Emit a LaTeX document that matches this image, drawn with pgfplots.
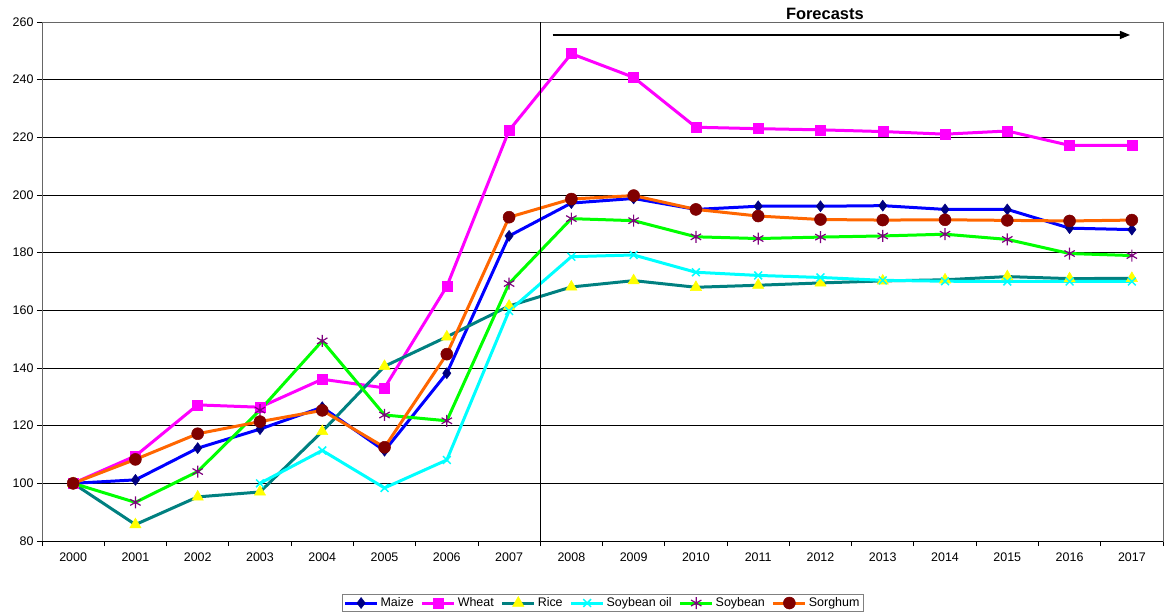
\documentclass[border=0pt]{standalone}
\usepackage{pgfplots}
\pgfplotsset{compat=1.18}
\usepackage{fontspec}
\setmainfont{Liberation Sans}
\usetikzlibrary{arrows.meta}
\definecolor{cMaize}{RGB}{0,0,255}
\definecolor{cMaizeM}{RGB}{0,0,128}
\definecolor{cWheat}{RGB}{255,0,255}
\definecolor{cRice}{RGB}{0,128,128}
\definecolor{cRiceM}{RGB}{255,255,0}
\definecolor{cOil}{RGB}{0,255,255}
\definecolor{cSoy}{RGB}{0,255,0}
\definecolor{cSoyM}{RGB}{128,0,128}
\definecolor{cSorg}{RGB}{255,102,0}
\definecolor{cSorgM}{RGB}{128,0,0}
\begin{document}
\begin{tikzpicture}
\useasboundingbox (-42bp,-75bp) rectangle (1123bp,541bp);
\begin{axis}[
  at={(0,0)}, anchor=south west,
  scale only axis, width=1121bp, height=519bp,
  xmin=-0.5, xmax=17.5, ymin=80, ymax=260,
  xtick={-0.5,0.5,...,17.5},
  x tick label as interval,
  xticklabels={2000,2001,2002,2003,2004,2005,2006,2007,2008,2009,2010,2011,2012,2013,2014,2015,2016,2017},
  ytick={80,100,...,260},
  tick align=outside, tick pos=left,
  major tick length=5bp,
  ymajorgrids, grid style={black, line width=0.8bp},
  axis line style={gray!80!black, line width=0.8bp},
  tick style={black, line width=0.8bp},
  /pgf/number format/assume math mode=true,
  ticklabel style={font=\fontsize{12.5}{14}\selectfont},
  xticklabel style={yshift=-3bp},
  clip=false,
  legend columns=6,
  legend style={at={(axis description cs:0.5,-0.1195)}, anchor=center,
    draw=gray, line width=0.6bp, font=\fontsize{12.5}{14}\selectfont,
    inner sep=1.5bp, /tikz/every even column/.append style={column sep=5bp}},
  legend image code/.code={\draw[mark repeat=2,mark phase=2,#1] plot coordinates {(0bp,0bp) (16bp,0bp) (32bp,0bp)};},
]
\addplot[cMaize, line width=3bp, mark=diamond*, mark size=5.5bp, mark options={fill=cMaizeM, draw=cMaizeM, line width=0.5bp}] coordinates {
(0,100) (1,101.2) (2,112.2) (3,118.8) (4,126.4) (5,111.3) (6,138.2) (7,185.8) (8,197.2) (9,198.8) (10,195) (11,196.1) (12,196.1) (13,196.3) (14,195) (15,195) (16,188.5) (17,188)};
\addlegendentry{Maize}
\addplot[cWheat, line width=3bp, mark=square*, mark size=5bp, mark options={fill=cWheat, draw=cWheat, line width=0.5bp}] coordinates {
(0,100) (1,109.5) (2,127.2) (3,126.4) (4,136.1) (5,133.1) (6,168.3) (7,222.4) (8,249) (9,240.8) (10,223.5) (11,223) (12,222.6) (13,222) (14,221.1) (15,222.2) (16,217.2) (17,217.2)};
\addlegendentry{Wheat}
\addplot[cRice, line width=3bp, mark=triangle*, mark size=6.5bp, mark options={fill=cRiceM, draw=cRiceM, line width=0.5bp}] coordinates {
(0,100) (1,85.7) (2,95.3) (3,97) (4,118) (5,140.6) (6,150.8) (7,161.5) (8,168.1) (9,170.3) (10,168) (11,168.7) (12,169.5) (13,170.2) (14,170.6) (15,171.7) (16,171) (17,171.1)};
\addlegendentry{Rice}
\addplot[cOil, line width=3bp, mark=x, mark size=5.5bp, mark options={draw=cOil, line width=1.5bp}] coordinates {
(3,100) (4,111.4) (5,98.4) (6,108.1) (7,159.8) (8,178.6) (9,179.2) (10,173.2) (11,172.1) (12,171.4) (13,170.4) (14,170.1) (15,170) (16,170) (17,170)};
\addlegendentry{Soybean oil}
\addplot[cSoy, line width=3bp, mark=asterisk, mark size=6bp, mark options={draw=cSoyM, line width=1.2bp}] coordinates {
(0,100) (1,93.4) (2,104.1) (3,125.4) (4,149.4) (5,123.7) (6,121.7) (7,169.3) (8,191.8) (9,191.1) (10,185.5) (11,184.9) (12,185.4) (13,185.8) (14,186.4) (15,184.6) (16,179.7) (17,179)};
\addlegendentry{Soybean}
\addplot[cSorg, line width=3bp, mark=*, mark size=6bp, mark options={fill=cSorgM, draw=cSorgM, line width=0.5bp}] coordinates {
(0,100) (1,108.3) (2,117.2) (3,121.4) (4,125.3) (5,112.5) (6,144.8) (7,192.3) (8,198.6) (9,199.8) (10,195) (11,192.7) (12,191.5) (13,191.3) (14,191.4) (15,191.2) (16,191) (17,191.3)};
\addlegendentry{Sorghum}
\draw[black, line width=0.8bp] (axis cs:-0.5,80) -- (axis cs:17.5,80);
\draw[black, line width=1bp] (axis cs:7.5,80) -- (axis cs:7.5,260);
\draw[black, line width=1.2bp, -{Triangle[length=10bp,width=8bp]}] (axis cs:7.7,255.5) -- (axis cs:16.97,255.5);
\node[anchor=base, font=\bfseries\fontsize{16.5}{18}\selectfont, inner sep=0pt] at ([yshift=2bp]axis cs:12.07,260) {Forecasts};
\end{axis}
\end{tikzpicture}
\end{document}
